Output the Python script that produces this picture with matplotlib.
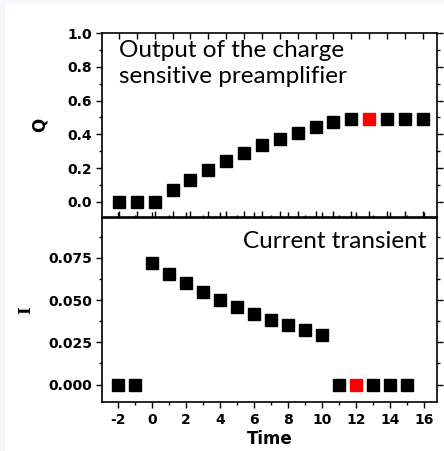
import matplotlib
matplotlib.use("Agg")
import matplotlib.pyplot as plt
from matplotlib.ticker import MultipleLocator
from matplotlib.patches import Rectangle

# Data
time_q = [-2, -1, 0, 1, 2, 3, 4, 5, 6, 7, 8, 9, 10, 11, 12, 13, 14, 15]
q_vals = [0.0, 0.0, 0.0, 0.071, 0.132, 0.19, 0.241, 0.29, 0.334, 0.375,
          0.409, 0.443, 0.47, 0.49, 0.49, 0.49, 0.49, 0.49]
time_i = [-2, -1, 0, 1, 2, 3, 4, 5, 6, 7, 8, 9, 10, 11, 12, 13, 14, 15]
i_vals = [0.0, 0.0, 0.0716, 0.0655, 0.0598, 0.0547, 0.0499, 0.0456, 0.0416,
          0.0383, 0.0351, 0.032, 0.0294, 0.0, 0.0, 0.0, 0.0, 0.0]
red_time = 12
xtick_labels = ["-2", "0", "2", "4", "6", "8", "10", "12", "14", "16"]
q_ticks = [0.0, 0.2, 0.4, 0.6, 0.8, 1.0]
i_ticks = [0.0, 0.025, 0.05, 0.075]

W, H = 444, 451
fig = plt.figure(figsize=(W / 100, H / 100), dpi=100, facecolor="#f4f6f9")
bg = fig.add_axes([5 / W, 0, 1 - 5 / W, 1 - 4 / H], zorder=-10)
bg.axis("off")
bg.add_patch(Rectangle((0, 0), 1, 1, transform=bg.transAxes,
                       facecolor="white", edgecolor="none"))

left = 102 / W
width = 335 / W
ax1 = fig.add_axes([left, 1 - 217 / H, width, 184 / H])
ax2 = fig.add_axes([left, 1 - 402 / H, width, 184 / H])

tick_font = dict(fontfamily="DejaVu Sans", fontweight="bold", fontsize=10)
ms = 8.5

def colors(ts):
    return ["red" if t == red_time else "black" for t in ts]

# Top panel
for t, v, c in zip(time_q, q_vals, colors(time_q)):
    ax1.plot([t], [v], marker="s", ms=ms, color=c, mec=c, ls="none")
ax1.set_xlim(-2.95, 15.8)
ax1.set_ylim(-0.09, 1.0)
ax1.xaxis.set_major_locator(MultipleLocator(1))
ax1.tick_params(axis="x", which="both", top=True, bottom=True, direction="in",
                length=4, width=1, labelbottom=False)
ax1.set_yticks(q_ticks)
ax1.set_yticklabels([f"{v:.1f}" for v in q_ticks], **tick_font)
ax1.yaxis.set_minor_locator(MultipleLocator(0.1))
ax1.tick_params(axis="y", which="major", left=True, right=True, direction="out",
                length=4, width=1, pad=3)
ax1.tick_params(axis="y", which="minor", left=True, right=True, direction="out",
                length=2.5, width=1)
ax1.set_ylabel("Q", fontweight="bold", fontsize=12, labelpad=14)
ax1.text(0.05, 0.96, "Output of the charge\nsensitive preamplifier",
         transform=ax1.transAxes, ha="left", va="top", fontsize=17.5,
         fontfamily="Lato", linespacing=1.3)

# Bottom panel
for t, v, c in zip(time_i, i_vals, colors(time_i)):
    ax2.plot([t], [v], marker="s", ms=ms, color=c, mec=c, ls="none")
ax2.set_xlim(-2.95, 16.77)
ax2.set_ylim(-0.0103, 0.0985)
xt = [int(s) for s in xtick_labels]
ax2.set_xticks(xt)
ax2.set_xticklabels(xtick_labels, **tick_font)
ax2.xaxis.set_minor_locator(MultipleLocator(1))
ax2.tick_params(axis="x", which="major", bottom=True, top=True, direction="out",
                length=4, width=1, pad=4)
ax2.tick_params(axis="x", which="minor", bottom=True, top=True, direction="out",
                length=2.5, width=1)
ax2.set_yticks(i_ticks)
ax2.set_yticklabels([f"{v:.3f}" for v in i_ticks], **tick_font)
ax2.yaxis.set_minor_locator(MultipleLocator(0.0125))
ax2.tick_params(axis="y", which="major", left=True, right=True, direction="out",
                length=4, width=1, pad=3)
ax2.tick_params(axis="y", which="minor", left=True, right=True, direction="out",
                length=2.5, width=1)
ax2.set_ylabel("I", fontweight="bold", fontsize=12, labelpad=10,
               fontfamily="DejaVu Serif")
ax2.set_xlabel("Time", fontweight="bold", fontsize=12, labelpad=2)
ax2.text(0.967, 0.93, "Current transient", transform=ax2.transAxes,
         ha="right", va="top", fontsize=17.5, fontfamily="Lato")

for ax in (ax1, ax2):
    ax.set_facecolor("none")
    for s in ax.spines.values():
        s.set_linewidth(1.2)

fig.savefig("out.png", dpi=100, facecolor=fig.get_facecolor())
